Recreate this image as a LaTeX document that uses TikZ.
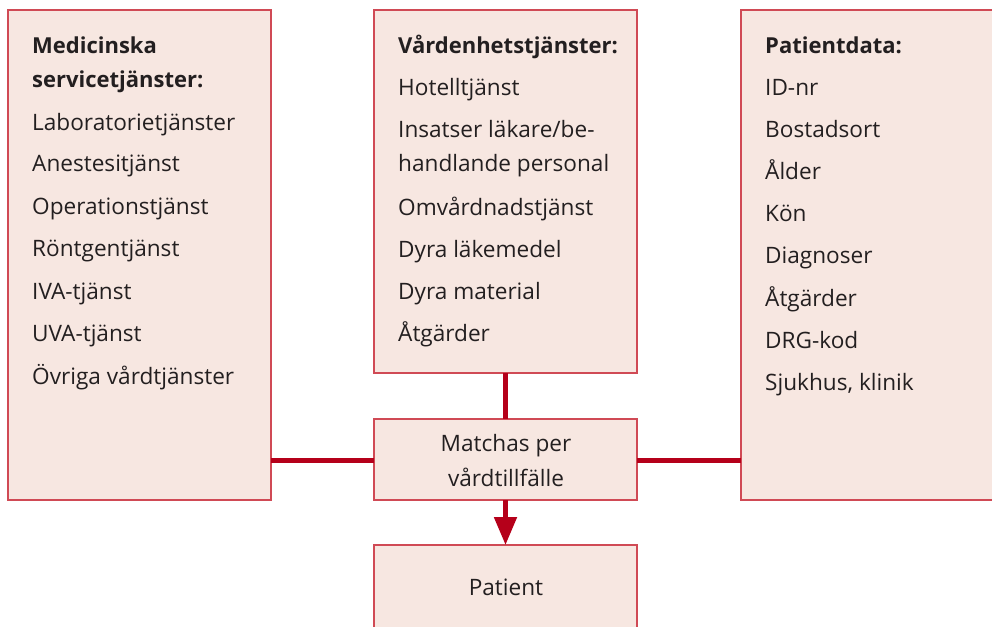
\documentclass[tikz,border=0pt]{standalone}
\usepackage{fontspec}
\setmainfont{Open Sans}
\usetikzlibrary{arrows.meta}
\definecolor{boxfill}{HTML}{F7E7E1}
\definecolor{boxline}{HTML}{D04A55}
\definecolor{conn}{HTML}{B5001A}
\definecolor{txt}{HTML}{231F20}
\tikzset{
  box/.style={draw=boxline, fill=boxfill, line width=1.5pt, inner sep=0pt, outer sep=0pt, anchor=north west},
  item/.style={anchor=base west, inner sep=0pt, text=txt, font=\fontsize{22.6}{26}\selectfont},
  head/.style={item, font=\fontsize{22}{26}\selectfont\bfseries},
  citem/.style={item, anchor=base},
  link/.style={draw=conn, line width=5pt},
}
\begin{document}
\begin{tikzpicture}[x=1pt,y=-1pt]
\useasboundingbox (0,0) rectangle (992,626);
\clip (0,0) rectangle (992,626);
% boxes
\node[box, minimum width=263, minimum height=490] (L) at (8,10) {};
\node[box, minimum width=263, minimum height=363] (M) at (374,10) {};
\node[box, minimum width=263, minimum height=81] (X) at (374,419) {};
\node[box, minimum width=263, minimum height=100] (P) at (374,545) {};
\node[box, minimum width=270, minimum height=490] (R) at (741,10) {};
% connectors
\coordinate (xl) at (374,460);
\coordinate (xr) at (637,460);
\draw[link] (L.east |- xl) -- (xl);
\draw[link] (R.west |- xr) -- (xr);
\draw[link] (M.south) -- (X.north);
\draw[link, -{Triangle[length=28pt,width=22pt]}] (X.south) -- (P.north);
% left texts
\node[head] (l0) at (32,53) {Medicinska};
\node[head] (l1) at (32,87) {servicetjänster:};
\node[item] (l2) at (32,130) {Laboratorietjänster};
\node[item] (l3) at (32,171) {Anestesitjänst};
\node[item] (l4) at (32,214) {Operationstjänst};
\node[item] (l5) at (32,256) {Röntgentjänst};
\node[item] (l6) at (32,299) {IVA-tjänst};
\node[item] (l7) at (32,341) {UVA-tjänst};
\node[item] (l8) at (32,384) {Övriga vårdtjänster};
% middle texts
\node[head] (m0) at (398,53) {Vårdenhetstjänster:};
\node[item] (m1) at (398,95) {Hotelltjänst};
\node[item] (m2) at (398,137) {Insatser läkare/be-};
\node[item] (m3) at (398,171) {handlande personal};
\node[item] (m4) at (398,215) {Omvårdnadstjänst};
\node[item] (m5) at (398,257) {Dyra läkemedel};
\node[item] (m6) at (398,299) {Dyra material};
\node[item] (m7) at (398,341) {Åtgärder};
% right texts
\node[head] (r0) at (765,53) {Patientdata:};
\node[item] (r1) at (765,95) {ID-nr};
\node[item] (r2) at (765,137) {Bostadsort};
\node[item] (r3) at (765,179) {Ålder};
\node[item] (r4) at (765,221) {Kön};
\node[item] (r5) at (765,263) {Diagnoser};
\node[item] (r6) at (765,306) {Åtgärder};
\node[item] (r7) at (765,348) {DRG-kod};
\node[item] (r8) at (765,390) {Sjukhus, klinik};
% center texts
\node[citem] (x1) at (506,451) {Matchas per};
\node[citem] (x2) at (506,486) {vårdtillfälle};
\node[citem] (p1) at (506,595) {Patient};
\end{tikzpicture}
\end{document}
